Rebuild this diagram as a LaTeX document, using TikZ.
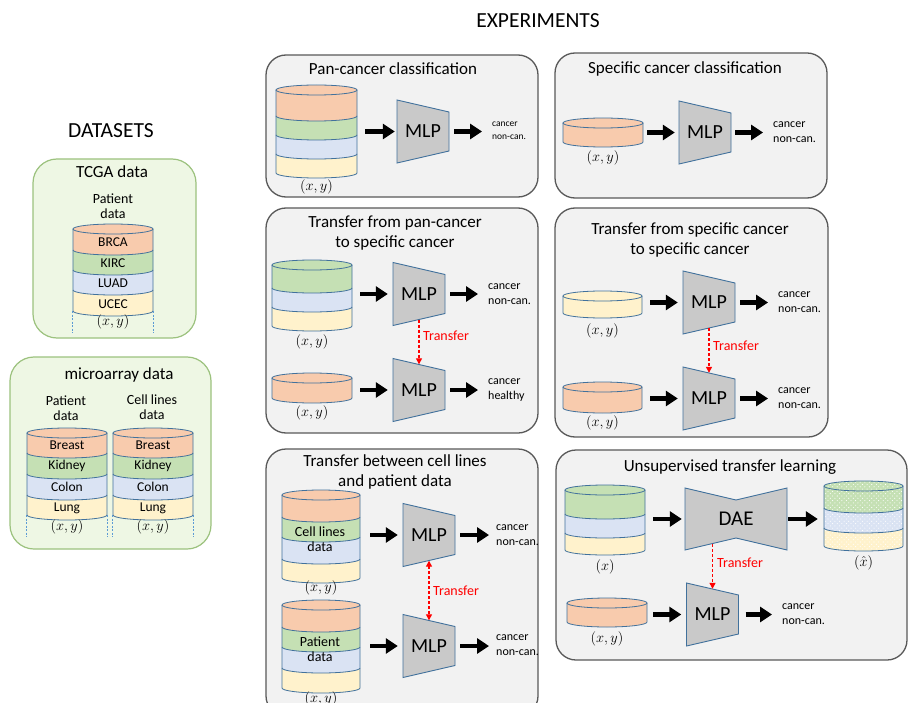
\documentclass[tikz,border=0pt]{standalone}
\usepackage{fontspec}
\setmainfont{Carlito}
\usetikzlibrary{arrows.meta,patterns,fit}

\definecolor{orng}{HTML}{F8CBAD}
\definecolor{grn}{HTML}{C5E0B4}
\definecolor{blu}{HTML}{DAE3F3}
\definecolor{ylw}{HTML}{FFF2CC}
\definecolor{edgeblue}{HTML}{41719C}
\definecolor{panelfill}{HTML}{F2F2F2}
\definecolor{panelline}{HTML}{595959}
\definecolor{dsfill}{HTML}{EEF7E4}
\definecolor{dsline}{HTML}{9CC27E}
\definecolor{mlpgray}{HTML}{C9C9C9}
\definecolor{xferred}{HTML}{FF0000}
\definecolor{dashblue}{HTML}{5B9BD5}

% staggered grid of small dots used on the reconstructed data
\pgfdeclarepatternformonly{sparsedots}{\pgfqpoint{-1pt}{-1pt}}{\pgfqpoint{3.6pt}{3.6pt}}{\pgfqpoint{4.6pt}{4.6pt}}{%
  \pgfpathcircle{\pgfqpoint{0pt}{0pt}}{0.55pt}%
  \pgfpathcircle{\pgfqpoint{2.3pt}{2.3pt}}{0.55pt}%
  \pgfusepath{fill}}

% half height of the elliptic caps of a database cylinder
\newcommand\cry{5}
% one coloured layer of a cylinder: centre x, top y, bottom y, x radius, fill options
\newcommand\cylband[5]{%
  \path[#5] ({#1-#4},#2) arc[start angle=180,end angle=360,x radius=#4,y radius=\cry]
    -- ({#1+#4},#3) arc[start angle=0,end angle=180,x radius=#4,y radius=\cry] -- cycle;
  \draw[cylline] ({#1-#4},#2) -- ({#1-#4},#3)
    arc[start angle=180,end angle=0,x radius=#4,y radius=\cry] -- ({#1+#4},#2);
}
% the visible top ellipse of a cylinder
\newcommand\cyltop[3]{\draw[cylline] (#1,#2) ellipse[x radius=#3,y radius=\cry];}
% an MLP block: name, centre x, centre y
\newcommand\mlpnet[3]{%
  \draw[mlpshape] ({#2-26},{#3-31.5}) -- ({#2+26},{#3-19.5}) -- ({#2+26},{#3+19.5})
    -- ({#2-26},{#3+31.5}) -- cycle;
  \node[nettext, minimum width=52pt, minimum height=51pt] (#1) at (#2,#3) {MLP};
}

\tikzset{
  cylline/.style={draw=edgeblue, line width=0.8pt},
  panel/.style={draw=panelline, fill=panelfill, line width=1.3pt, rounded corners=20pt},
  dspanel/.style={draw=dsline, fill=dsfill, line width=1.2pt, rounded corners=24pt},
  mlpshape/.style={draw=edgeblue, fill=mlpgray, line width=0.9pt},
  nettext/.style={inner sep=0pt, font=\fontsize{20}{24}\selectfont},
  bigarrow/.style={line width=4.5pt, -{Triangle[length=12pt,width=15pt]}},
  xfer/.style={draw=xferred, line width=1.2pt, dash pattern=on 3pt off 2pt,
    -{Triangle[length=6pt,width=6pt]}},
  xferlabel/.style={text=xferred, font=\fontsize{14}{16}\selectfont, anchor=west, inner sep=0pt},
  outtext/.style={align=left, anchor=west, inner sep=0pt, font=\fontsize{12}{15}\selectfont},
  outsmall/.style={align=left, anchor=west, inner sep=0pt, font=\fontsize{9.5}{13}\selectfont},
  paneltitle/.style={align=center, inner sep=0pt, font=\fontsize{17}{20.5}\selectfont},
  heading/.style={inner sep=0pt, font=\fontsize{21.5}{24}\selectfont},
  sublabel/.style={align=center, inner sep=0pt, font=\fontsize{14}{15.5}\selectfont},
  bandlabel/.style={inner sep=0pt, font=\fontsize{13.5}{16}\selectfont},
  xylabel/.style={inner sep=0pt, font=\fontsize{15}{17}\selectfont},
  cylfit/.style={inner sep=0pt},
  dashline/.style={draw=dashblue, line width=0.8pt, dash pattern=on 2pt off 1.5pt},
  dotted fill/.style={fill=#1, postaction={pattern=sparsedots, pattern color=white}},
}

\begin{document}
\begin{tikzpicture}[x=1pt,y=-1pt]
\useasboundingbox (0,0) rectangle (909,703);
\fill[white] (0,0) rectangle (909,703);

% ---------- headings ----------
\node[heading] (hexp) at (538,21) {EXPERIMENTS};
\node[heading] (hds) at (111,131) {DATASETS};

% ---------- TCGA data ----------
\draw[dspanel] (33,159) rectangle (196,338);
\node[paneltitle] (ttcga) at (112,172) {TCGA data};
\node[sublabel] (ptcga) at (113,206) {Patient\\data};
\cylband{113}{290}{311}{40}{fill=ylw}
\cylband{113}{270}{290}{40}{fill=blu}
\cylband{113}{250}{270}{40}{fill=grn}
\cylband{113}{229}{250}{40}{fill=orng}
\cyltop{113}{229}{40}
\node[cylfit, fit={(73,224) (153,311)}] (ctcga) {};
\node[bandlabel] (lbrca) at (113,242) {BRCA};
\node[bandlabel] (lkirc) at (113,263) {KIRC};
\node[bandlabel] (lluad) at (113,283) {LUAD};
\node[bandlabel] (lucec) at (113,304) {UCEC};
\draw[dashline] (ctcga.south west) -- ++(0,22);
\draw[dashline] (ctcga.south east) -- ++(0,22);
\node[xylabel] (xytcga) at (113,322) {$(x,y)$};

% ---------- microarray data ----------
\draw[dspanel] (10,357) rectangle (211,549);
\node[paneltitle] (tmicro) at (119,375) {microarray data};
\node[sublabel] (pmicro) at (66,408) {Patient\\data};
\node[sublabel] (cmicro) at (152,407) {Cell lines\\data};
\foreach \cx/\nm in {67/cpat, 153/ccell}{
  \cylband{\cx}{495}{515}{40}{fill=ylw}
  \cylband{\cx}{474}{495}{40}{fill=blu}
  \cylband{\cx}{453}{474}{40}{fill=grn}
  \cylband{\cx}{433}{453}{40}{fill=orng}
  \cyltop{\cx}{433}{40}
  \node[cylfit, fit={({\cx-40},428) ({\cx+40},515)}] (\nm) {};
  \node[bandlabel] at (\cx,445) {Breast};
  \node[bandlabel] at (\cx,466) {Kidney};
  \node[bandlabel] at (\cx,487) {Colon};
  \node[bandlabel] at (\cx,508) {Lung};
  \draw[dashline] (\nm.south west) -- ++(0,22);
  \draw[dashline] (\nm.south east) -- ++(0,22);
  \node[xylabel] at (\cx,527) {$(x,y)$};
}

% ---------- Pan-cancer classification ----------
\draw[panel] (266,55) rectangle (538,197);
\node[paneltitle] (t1) at (393,69) {Pan-cancer classification};
\cylband{316.5}{154}{173}{40.5}{fill=ylw}
\cylband{316.5}{135}{154}{40.5}{fill=blu}
\cylband{316.5}{116}{135}{40.5}{fill=grn}
\cylband{316.5}{90}{116}{40.5}{fill=orng}
\cyltop{316.5}{90}{40.5}
\node[cylfit, fit={(276,85) (357,173)}] (c1) {};
\node[xylabel] (xy1) at (316.5,187) {$(x,y)$};
\mlpnet{m1}{423}{131.5}
\node[outsmall] (o1) at (492,131) {cancer\\non-can.};
\draw[bigarrow, shorten <=8pt, shorten >=2pt] (c1.east |- m1.west) -- (m1.west);
\draw[bigarrow, shorten <=5pt, shorten >=10pt] (m1.east) -- (o1.west |- m1.east);

% ---------- Specific cancer classification ----------
\draw[panel] (555,53) rectangle (827,198);
\node[paneltitle] (t2) at (685,69) {Specific cancer classification};
\cylband{603}{123}{142}{40}{fill=orng}
\cyltop{603}{123}{40}
\node[cylfit, fit={(563,118) (643,142)}] (c2) {};
\node[xylabel] (xy2) at (603,158) {$(x,y)$};
\mlpnet{m2}{705}{132.5}
\node[outtext] (o2) at (773,132.5) {cancer\\non-can.};
\draw[bigarrow, shorten <=4pt, shorten >=4pt] (c2.east |- m2.west) -- (m2.west);
\draw[bigarrow, shorten <=4pt, shorten >=10pt] (m2.east) -- (o2.west |- m2.east);

% ---------- Transfer from pan-cancer to specific cancer ----------
\draw[panel] (266,208) rectangle (538,433);
\node[paneltitle] (t3) at (395,233) {Transfer from pan-cancer\\to specific cancer};
\cylband{312}{307}{326}{40}{fill=ylw}
\cylband{312}{288}{307}{40}{fill=blu}
\cylband{312}{265}{288}{40}{fill=grn}
\cyltop{312}{265}{40}
\node[cylfit, fit={(272,260) (352,326)}] (c3a) {};
\node[xylabel] (xy3a) at (312,342) {$(x,y)$};
\cylband{312}{378}{398}{40}{fill=orng}
\cyltop{312}{378}{40}
\node[cylfit, fit={(272,373) (352,398)}] (c3b) {};
\node[xylabel] (xy3b) at (312,413) {$(x,y)$};
\mlpnet{m3a}{419}{294}
\mlpnet{m3b}{419}{390}
\node[outtext] (o3a) at (488,294) {cancer\\non-can.};
\node[outtext] (o3b) at (488,390) {cancer\\healthy};
\draw[bigarrow, shorten <=8pt, shorten >=5pt] (c3a.east |- m3a.west) -- (m3a.west);
\draw[bigarrow, shorten <=5pt, shorten >=10pt] (m3a.east) -- (o3a.west |- m3a.east);
\draw[bigarrow, shorten <=8pt, shorten >=5pt] (c3b.east |- m3b.west) -- (m3b.west);
\draw[bigarrow, shorten <=5pt, shorten >=10pt] (m3b.east) -- (o3b.west |- m3b.east);
\draw[xfer] (m3a.south) -- (m3b.north);
\node[xferlabel] (x3) at (423,336) {Transfer};

% ---------- Transfer from specific cancer to specific cancer ----------
\draw[panel] (555,208) rectangle (828,437);
\node[paneltitle] (t4) at (690,240) {Transfer from specific cancer\\to specific cancer};
\cylband{602.5}{296}{313}{39.5}{fill=ylw}
\cyltop{602.5}{296}{39.5}
\node[cylfit, fit={(563,291) (642,313)}] (c4a) {};
\node[xylabel] (xy4a) at (602.5,331) {$(x,y)$};
\cylband{602.5}{387}{408}{39.5}{fill=orng}
\cyltop{602.5}{387}{39.5}
\node[cylfit, fit={(563,382) (642,408)}] (c4b) {};
\node[xylabel] (xy4b) at (602.5,423) {$(x,y)$};
\mlpnet{m4a}{709}{302.5}
\mlpnet{m4b}{709}{398.5}
\node[outtext] (o4a) at (778,302) {cancer\\non-can.};
\node[outtext] (o4b) at (778,398) {cancer\\non-can.};
\draw[bigarrow, shorten <=8pt, shorten >=5pt] (c4a.east |- m4a.west) -- (m4a.west);
\draw[bigarrow, shorten <=5pt, shorten >=10pt] (m4a.east) -- (o4a.west |- m4a.east);
\draw[bigarrow, shorten <=8pt, shorten >=5pt] (c4b.east |- m4b.west) -- (m4b.west);
\draw[bigarrow, shorten <=5pt, shorten >=10pt] (m4b.east) -- (o4b.west |- m4b.east);
\draw[xfer] (m4a.south) -- (m4b.north);
\node[xferlabel] (x4) at (713,346) {Transfer};

% ---------- Transfer between cell lines and patient data ----------
\draw[panel] (266,449) rectangle (538,716);
\node[paneltitle] (t5) at (395,472) {Transfer between cell lines\\and patient data};
\cylband{321}{559}{578}{39}{fill=ylw}
\cylband{321}{537}{559}{39}{fill=blu}
\cylband{321}{517}{537}{39}{fill=grn}
\cylband{321}{495}{517}{39}{fill=orng}
\cyltop{321}{495}{39}
\node[cylfit, fit={(282,490) (360,578)}] (c5a) {};
\node[sublabel] (l5a) at (320,539) {Cell lines\\data};
\node[xylabel] (xy5a) at (321,588) {$(x,y)$};
\cylband{321}{668}{688}{39}{fill=ylw}
\cylband{321}{647}{668}{39}{fill=blu}
\cylband{321}{627}{647}{39}{fill=grn}
\cylband{321}{605}{627}{39}{fill=orng}
\cyltop{321}{605}{39}
\node[cylfit, fit={(282,600) (360,688)}] (c5b) {};
\node[sublabel] (l5b) at (320,649) {Patient\\data};
\node[xylabel] (xy5b) at (321,699) {$(x,y)$};
\mlpnet{m5a}{429}{535}
\mlpnet{m5b}{429}{646}
\node[outtext] (o5a) at (496,535) {cancer\\non-can.};
\node[outtext] (o5b) at (496,645) {cancer\\non-can.};
\draw[bigarrow, shorten <=10pt, shorten >=5pt] (c5a.east |- m5a.west) -- (m5a.west);
\draw[bigarrow, shorten <=5pt, shorten >=7pt] (m5a.east) -- (o5a.west |- m5a.east);
\draw[bigarrow, shorten <=10pt, shorten >=5pt] (c5b.east |- m5b.west) -- (m5b.west);
\draw[bigarrow, shorten <=5pt, shorten >=7pt] (m5b.east) -- (o5b.west |- m5b.east);
\draw[xfer, {Triangle[length=6pt,width=6pt]}-{Triangle[length=6pt,width=6pt]}] (m5a.south) -- (m5b.north);
\node[xferlabel] (x5) at (433,591) {Transfer};

% ---------- Unsupervised transfer learning ----------
\draw[panel] (556,450) rectangle (907,660);
\node[paneltitle] (t6) at (730,467) {Unsupervised transfer learning};
\cylband{605}{533}{550}{40}{fill=ylw}
\cylband{605}{514}{533}{40}{fill=blu}
\cylband{605}{490}{514}{40}{fill=grn}
\cyltop{605}{490}{40}
\node[cylfit, fit={(565,485) (645,550)}] (c6a) {};
\node[xylabel] (xy6a) at (605,567) {$(x)$};
% denoising autoencoder block
\draw[mlpshape] (685,488) -- (736,500) -- (787,488) -- (787,550) -- (736,538) -- (685,550) -- cycle;
\node[inner sep=0pt, minimum width=102pt, minimum height=50pt, font=\fontsize{21}{24}\selectfont] (dae) at (736,519) {DAE};
\cylband{863.5}{528}{546}{39.5}{dotted fill=ylw}
\cylband{863.5}{508}{528}{39.5}{dotted fill=blu}
\cylband{863.5}{486}{508}{39.5}{dotted fill=grn}
\cyltop{863.5}{486}{39.5}
\node[cylfit, fit={(824,481) (903,546)}] (c6b) {};
\node[xylabel] (xy6b) at (863.5,563) {$(\hat{x})$};
\cylband{607}{603}{622}{40}{fill=orng}
\cyltop{607}{603}{40}
\node[cylfit, fit={(567,598) (647,622)}] (c6c) {};
\node[xylabel] (xy6c) at (607,639) {$(x,y)$};
\mlpnet{m6}{712.5}{614.5}
\node[outtext] (o6) at (782,614.5) {cancer\\non-can.};
\draw[bigarrow, shorten <=8pt, shorten >=3pt] (c6a.east |- dae.west) -- (dae.west);
\draw[bigarrow, shorten <=1pt, shorten >=6pt] (dae.east) -- (c6b.west |- dae.east);
\draw[bigarrow, shorten <=6pt, shorten >=5pt] (c6c.east |- m6.west) -- (m6.west);
\draw[bigarrow, shorten <=7pt, shorten >=10pt] (m6.east) -- (o6.west |- m6.east);
\draw[xfer] (m6.north |- dae.south) -- (m6.north);
\node[xferlabel] (x6) at (717,563) {Transfer};
\end{tikzpicture}
\end{document}
